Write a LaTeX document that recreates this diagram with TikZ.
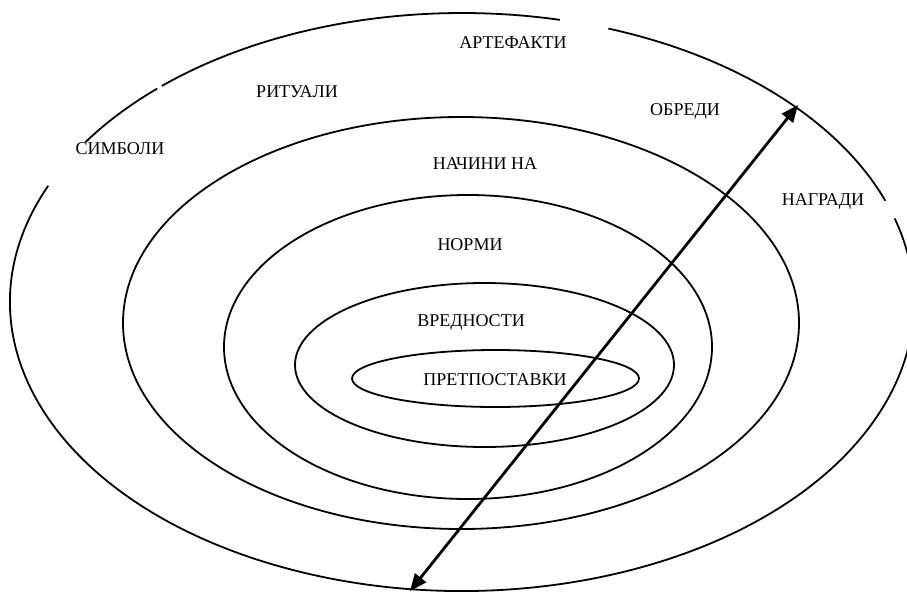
\documentclass[tikz,border=0pt]{standalone}
\usepackage{fontspec}
\setmainfont{Liberation Serif}
\usetikzlibrary{shapes.geometric,arrows.meta}
\begin{document}
\begin{tikzpicture}[x=1pt,y=-1pt,
  ring/.style={draw, ellipse, line width=1.8pt, inner sep=0pt},
  lbl/.style={anchor=base, inner sep=0pt, font=\fontsize{18}{20}\selectfont},
  outer/.style={line width=1.8pt},
  dbl/.style={line width=2.8pt, {Triangle[length=17pt,width=14pt]}-{Triangle[length=17pt,width=14pt]}}]
\useasboundingbox (0,0) rectangle (907,592);
\clip (0,0) rectangle (907,592);
% outer ring with gaps
\coordinate (oc) at (462,302);
\draw[outer] (oc) ++(-77.5:452 and 289) arc[start angle=-77.5, end angle=-131.6, x radius=452, y radius=289];
\draw[outer] (oc) ++(-132.4:452 and 289) arc[start angle=-132.4, end angle=-146.4, x radius=452, y radius=289];
\draw[outer] (oc) ++(-156.3:452 and 289) arc[start angle=-156.3, end angle=-376.8, x radius=452, y radius=289];
\draw[outer] (oc) ++(-20.5:452 and 289) arc[start angle=-20.5, end angle=-71.1, x radius=452, y radius=289];
% inner rings
\node[ring, minimum width=676pt, minimum height=412pt] (e2) at (461,323) {};
\node[ring, minimum width=488pt, minimum height=304pt] (e3) at (468,347) {};
\node[ring, minimum width=379pt, minimum height=164pt] (e4) at (484.5,365) {};
\node[ring, minimum width=287pt, minimum height=57pt] (e5) at (495.5,378.5) {};
% labels
\node[lbl] (art) at (513,48) {АРТЕФАКТИ};
\node[lbl] (rit) at (297,97) {РИТУАЛИ};
\node[lbl] (sim) at (120,154) {СИМБОЛИ};
\node[lbl] (obr) at (685,115) {ОБРЕДИ};
\node[lbl] (nac) at (485,169) {НАЧИНИ НА};
\node[lbl] (nag) at (823,205) {НАГРАДИ};
\node[lbl] (nor) at (470,250) {НОРМИ};
\node[lbl] (vre) at (471,326) {ВРЕДНОСТИ};
\node[lbl] (pre) at (495,385) {ПРЕТПОСТАВКИ};
% arrow
\coordinate (atop) at (798,105);
\coordinate (abot) at (410,591);
\draw[dbl] (abot) -- (atop);
\end{tikzpicture}
\end{document}
